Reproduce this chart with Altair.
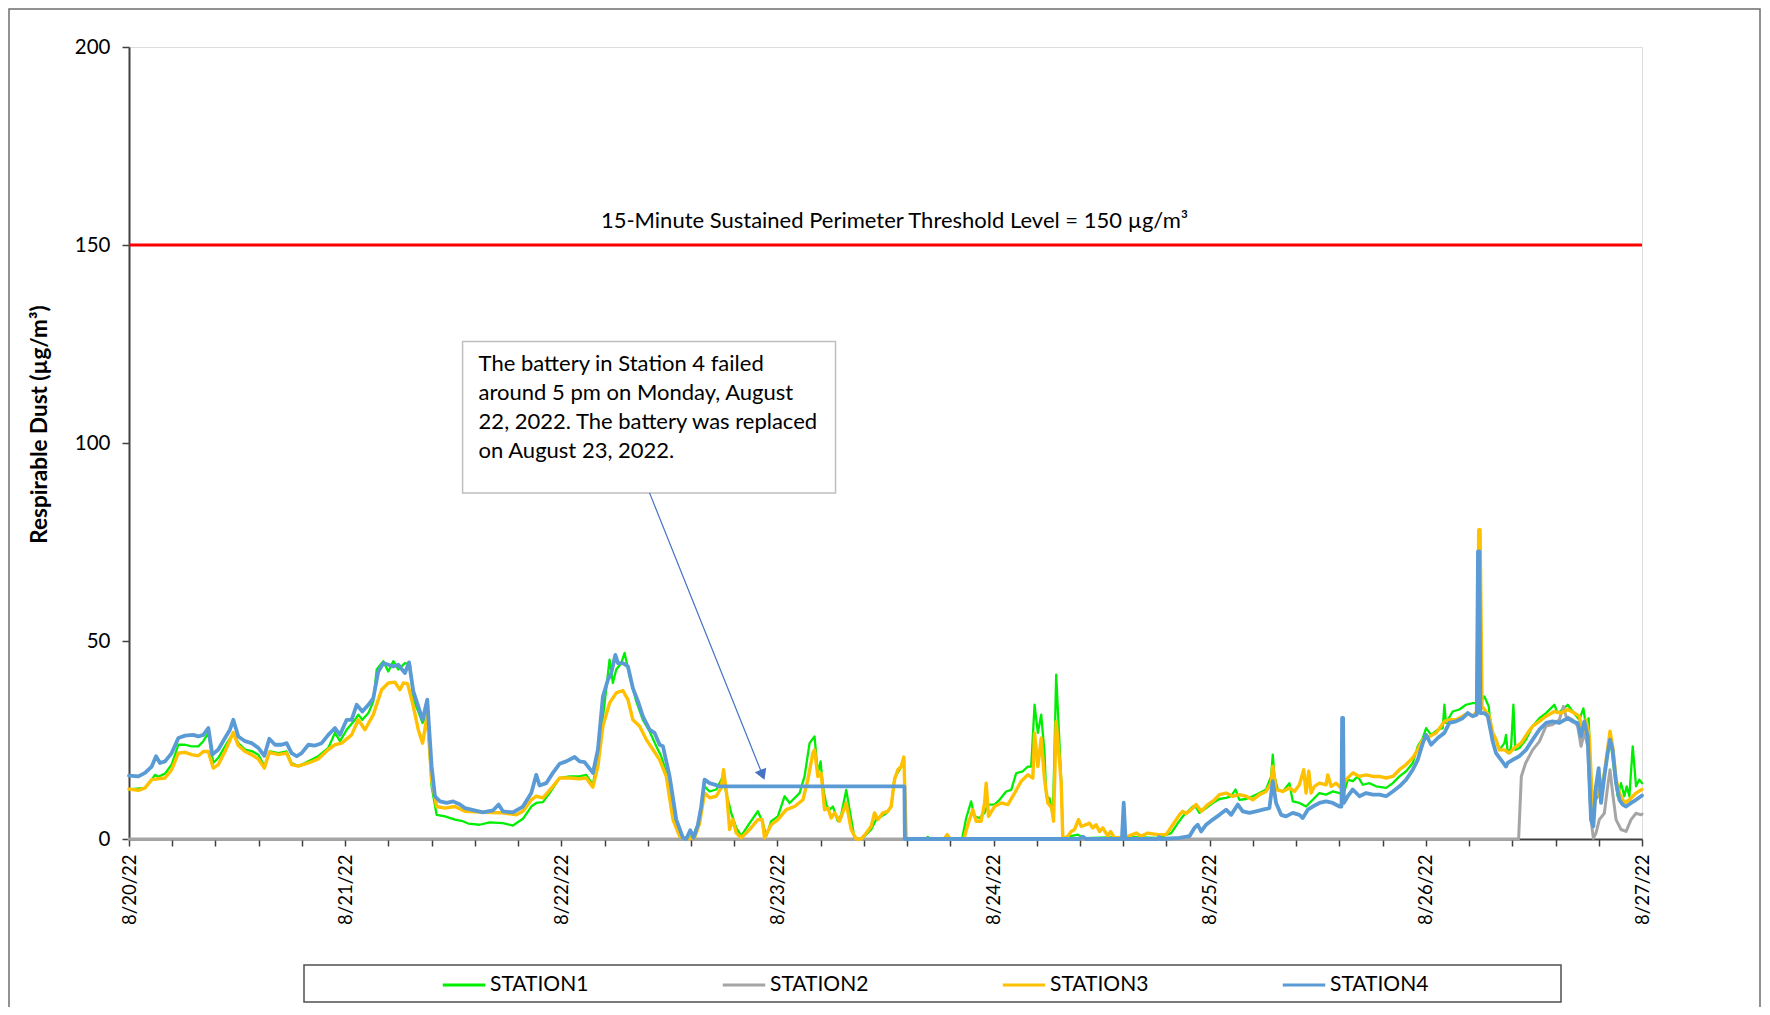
import altair as alt
import pandas as pd

START = pd.Timestamp("2022-08-20 00:00:00")

STATIONS = ["STATION1", "STATION2", "STATION3", "STATION4"]
COLORS = ["#00ee00", "#a5a5a5", "#ffc000", "#5b9bd5"]
WIDTHS = [2.3, 3.0, 3.4, 3.8]

# (hours since 8/20/22 00:00, µg/m3)
s1 = [(0, 12.5), (1.78, 12.9), (2.52, 15.0), (2.89, 16.2), (3.26, 15.7), (4.0, 16.5), (4.74, 18.8), (5.48, 23.8),
      (6.22, 23.8), (6.96, 23.4), (7.7, 23.4), (8.25, 24.7), (8.81, 26.8), (9.36, 19.2), (9.92, 20.5), (10.66, 23.4),
      (11.58, 26.8), (12.14, 24.2), (12.88, 22.6), (13.62, 22.2), (14.36, 21.3), (15.03, 18.4), (15.65, 22.1),
      (16.58, 21.7), (17.5, 22.1), (18.06, 19.2), (18.8, 18.4), (19.91, 19.6), (21.02, 20.9), (22.13, 23.0),
      (22.87, 26.8), (23.43, 24.7), (24.17, 27.6), (25.09, 30.1), (25.46, 31.4), (25.91, 30.1), (26.58, 31.8),
      (27.13, 34.8), (27.5, 42.8), (28.24, 44.9), (28.79, 42.3), (29.35, 44.9), (29.9, 42.8), (30.64, 44.4),
      (31.2, 44.0), (31.57, 35.2), (32.12, 32.2), (32.6, 29.3), (33.12, 31.8), (33.6, 13.3), (34.16, 6.1),
      (35.09, 5.7), (36.19, 4.9), (36.93, 4.6), (37.67, 3.9),
      (38.93, 3.6), (40.04, 4.2), (41.52, 4.0), (42.63, 3.4), (43.74, 5.1), (44.67, 8.2), (45.22, 9.1), (45.96, 9.3),
      (46.7, 11.6), (47.81, 15.4), (48.92, 15.8), (50.03, 15.8), (50.77, 16.2), (51.51, 13.7), (52.25, 23.4),
      (52.81, 34.3), (53.36, 45.3), (53.73, 39.4), (54.1, 42.8), (54.66, 44.4), (55.03, 47.0), (55.58, 41.1),
      (56.32, 34.8), (57.06, 30.1), (57.8, 27.2), (58.55, 23.4), (59.1, 20.9), (59.66, 16.7), (60.4, 5.7),
      (61.14, 0.7), (61.88, 0.0), (62.62, 0.7), (63.36, 4.9), (63.91, 13.3), (64.47, 12.0), (65.21, 12.5),
      (65.95, 15.8), (66.32, 11.6), (66.87, 6.6), (67.43, 2.8), (67.98, 0.8), (68.91, 4.0), (69.83, 7.0),
      (70.39, 4.0), (70.76, 0.7), (71.31, 4.5), (72.05, 5.7), (72.8, 10.8), (73.35, 9.1), (74.46, 11.6),
      (75.01, 15.8), (75.57, 24.2), (76.12, 25.9),
      (76.49, 16.6), (76.79, 19.6), (77.05, 13.3), (77.42, 8.7), (77.79, 7.4), (78.16, 8.2), (78.71, 4.5),
      (79.08, 6.1), (79.64, 12.4), (80.01, 7.4), (80.56, 0.2), (81.12, 0.0), (81.67, 0.7), (82.41, 2.4),
      (82.97, 4.9), (83.52, 5.7), (84.08, 6.5), (84.63, 8.2), (85.0, 15.4), (85.56, 17.5), (86.04, 20.0),
      (86.3, 0.0), (88.4, 0.0), (88.7, 0.5), (89.0, 0.0), (92.5, 0.0),
      (92.96, 5.3), (93.51, 9.5), (93.88, 5.7), (94.44, 5.3), (95.0, 6.6), (95.36, 8.7), (96.1, 8.7), (96.66, 9.9),
      (97.4, 12.0), (97.96, 12.4), (98.51, 16.6), (99.25, 17.1), (99.81, 18.3), (100.18, 18.3), (100.55, 33.9),
      (100.92, 26.8), (101.29, 31.4), (101.66, 21.7), (101.84, 10.8), (102.21, 10.3), (102.58, 5.7),
      (102.77, 22.6), (102.95, 41.5), (103.21, 29.3), (103.51, 15.0), (103.69, 0.3), (105.36, 1.1), (106.1, 0.2),
      (110.5, 0.5), (114.2, 0.3),
      (115.72, 1.5), (116.46, 4.0), (117.01, 5.7), (117.57, 7.0), (118.12, 8.2), (118.49, 8.0), (118.86, 6.6),
      (119.6, 7.8), (120.34, 9.1), (121.08, 10.1), (121.82, 10.4), (122.38, 10.8), (122.86, 12.5), (123.3, 9.9),
      (124.04, 10.1), (124.78, 10.8), (125.52, 11.6), (126.26, 12.5), (126.82, 15.8), (127.0, 21.3),
      (127.19, 15.8), (127.56, 12.5), (128.11, 12.0), (128.85, 14.1), (129.22, 9.5), (129.96, 9.1), (130.7, 8.2),
      (131.44, 9.9), (132.18, 11.6), (132.92, 11.2), (133.66, 12.0), (134.41, 11.6), (134.85, 11.2),
      (135.33, 15.0), (135.89, 14.6), (136.44, 15.8), (137.0, 13.7), (137.74, 14.1), (138.48, 13.3),
      (139.59, 12.9), (140.33, 14.1), (141.07, 15.8), (141.81, 17.1), (142.55, 19.2), (143.1, 23.4),
      (143.66, 25.5), (144.03, 28.0), (144.58, 26.3), (145.32, 27.6),
      (145.87, 28.0), (146.06, 33.9), (146.24, 29.3), (146.98, 32.2), (147.72, 32.7), (148.46, 33.9),
      (149.2, 34.3), (149.87, 34.3), (150.5, 36.0), (150.98, 33.5), (151.24, 27.6), (151.61, 25.9),
      (152.16, 22.5), (152.72, 24.2), (152.9, 26.3), (153.09, 21.7), (153.46, 23.0), (153.72, 33.9),
      (153.94, 22.5), (154.38, 23.0), (155.12, 25.1), (155.86, 28.5), (156.6, 30.5), (157.34, 31.8),
      (158.27, 33.9), (158.64, 31.8), (159.19, 32.7), (159.75, 33.9), (160.3, 32.2), (161.04, 30.1),
      (161.49, 33.0), (161.78, 28.5), (162.08, 30.5), (162.34, 13.3), (162.71, 9.1), (163.26, 11.6),
      (163.82, 16.6), (164.45, 25.9), (164.93, 16.6), (165.3, 10.8), (165.67, 14.1), (166.04, 10.8),
      (166.3, 13.3), (166.6, 10.8), (166.97, 23.4), (167.34, 13.3), (167.71, 15.0), (168.0, 14.1)]

s2 = [(0, 0.0), (154.3, 0.0), (154.6, 15.8), (155.08, 19.2), (155.86, 22.5), (156.6, 24.6), (157.34, 28.5),
      (158.08, 28.9), (158.82, 30.1), (159.27, 33.5), (159.56, 31.0), (160.3, 30.1), (160.86, 28.5),
      (161.23, 23.4), (161.6, 27.0), (161.97, 23.4), (162.34, 4.9), (162.6, 0.2), (162.89, 1.5), (163.26, 4.9),
      (163.82, 6.5), (164.19, 13.3), (164.45, 17.5), (164.74, 11.6), (165.12, 4.9), (165.67, 2.4),
      (166.23, 1.9), (166.78, 4.9), (167.34, 6.5), (167.89, 6.1), (168.0, 6.3)]

s3 = [(0, 12.6), (1.04, 12.3), (1.78, 12.9), (2.52, 15.0), (3.26, 15.2), (4.0, 15.4), (4.74, 17.5), (5.48, 21.7),
      (6.22, 21.9), (6.96, 21.3), (7.7, 21.0), (8.25, 22.1), (8.81, 22.1), (9.36, 17.9), (9.92, 18.8),
      (10.66, 22.1), (11.58, 26.9), (12.14, 23.6), (12.88, 22.1), (13.62, 21.3), (14.36, 20.2), (15.03, 17.9),
      (15.58, 21.9), (16.58, 21.3), (17.5, 21.7), (18.06, 18.8), (18.8, 18.4), (19.91, 19.2), (21.02, 20.2),
      (22.13, 22.6), (22.87, 23.8), (23.61, 24.2), (24.72, 26.3), (25.46, 30.1), (26.2, 27.6), (27.13, 31.4),
      (28.05, 37.7), (28.79, 39.4), (29.53, 39.6), (30.09, 37.7), (30.46, 39.4), (30.94, 39.2), (31.57, 33.5),
      (32.12, 27.6), (32.6, 24.2), (33.12, 31.4), (33.6, 15.0), (34.16, 8.2), (35.08, 7.8), (36.19, 8.2),
      (37.3, 7.0),
      (40.04, 6.7), (41.52, 6.6), (43.0, 6.1), (43.74, 7.0), (44.67, 9.9), (45.22, 10.8), (45.96, 10.4),
      (47.07, 13.3), (47.81, 15.4), (48.92, 15.4), (50.03, 15.2), (50.77, 15.4), (51.51, 13.1), (52.07, 18.4),
      (52.62, 28.5), (53.36, 34.3), (54.1, 36.9), (54.84, 37.5), (55.4, 35.2), (55.95, 30.1), (56.7, 28.5),
      (57.44, 25.1), (58.18, 22.6), (58.92, 20.0), (59.66, 15.8), (60.4, 4.9), (61.14, 0.7), (61.88, 0.0),
      (62.8, 0.3), (63.36, 4.0), (63.91, 11.6), (64.47, 10.4), (65.21, 10.8), (65.76, 12.9), (66.02, 17.5),
      (66.39, 10.8), (66.69, 2.4), (67.06, 4.9), (67.43, 1.5), (67.98, 0.3), (68.91, 2.4), (69.83, 4.9),
      (70.31, 4.9), (70.57, 0.3), (71.31, 3.6), (72.05, 4.9), (72.98, 7.4), (73.9, 8.2), (74.83, 9.9),
      (75.38, 15.0), (75.94, 21.7), (76.12, 22.5),
      (76.49, 15.8), (76.86, 16.6), (77.23, 7.4), (77.6, 7.8), (77.97, 5.3), (78.34, 6.6), (78.9, 4.5),
      (79.64, 9.1), (80.19, 2.4), (80.75, 0.0), (81.3, 0.0), (81.86, 1.5), (82.41, 3.2), (82.78, 6.6),
      (83.15, 4.9), (83.71, 6.6), (84.26, 7.0), (84.63, 8.2), (85.0, 15.0), (85.37, 17.5), (85.74, 18.3),
      (86.04, 20.7), (86.3, 0.0), (90.5, 0.0), (90.85, 1.1), (91.2, 0.0), (92.7, 0.0),
      (93.14, 3.6), (93.7, 7.4), (94.07, 4.5), (94.62, 4.5), (95.0, 9.1), (95.18, 14.1), (95.44, 5.7),
      (96.1, 8.2), (96.85, 9.1), (97.59, 8.7), (98.33, 11.6), (99.07, 14.6), (99.81, 16.2), (100.36, 15.4),
      (100.55, 26.8), (100.92, 18.3), (101.29, 25.5), (101.66, 15.0), (102.03, 9.1), (102.47, 7.8),
      (102.66, 4.5), (102.95, 29.7), (103.25, 21.7), (103.51, 14.1), (103.69, 0.0), (104.25, 0.7),
      (104.62, 1.9), (104.99, 2.4), (105.43, 4.9), (105.73, 3.2), (106.28, 3.6), (106.65, 4.0), (107.02, 2.8),
      (107.39, 3.6), (107.76, 1.9), (108.13, 2.8), (108.69, 0.7), (108.98, 1.9), (109.43, 0.3), (110.54, 0.3),
      (111.83, 1.5), (112.39, 0.7), (113.13, 1.5), (114.24, 1.1),
      (115.16, 1.1), (115.9, 3.6), (116.64, 6.1), (117.01, 7.0), (117.38, 6.4), (117.94, 7.4), (118.49, 8.7),
      (119.05, 7.0), (119.79, 8.7), (120.53, 9.9), (121.08, 11.2), (121.82, 11.6), (122.56, 10.8),
      (123.3, 11.2), (124.04, 10.8), (124.78, 9.9), (125.52, 11.2), (126.26, 12.0), (126.82, 14.1),
      (127.0, 18.4), (127.37, 12.5), (128.11, 12.0), (128.85, 12.9), (129.41, 12.0), (129.96, 13.7),
      (130.44, 17.5), (130.7, 11.6), (131.0, 17.1), (131.26, 11.6), (131.63, 13.3), (132.18, 14.1),
      (132.92, 13.7), (133.11, 16.2), (133.48, 13.3), (134.03, 14.1), (134.59, 12.9), (135.14, 15.0),
      (135.89, 16.7), (136.63, 15.8), (137.37, 16.2), (138.11, 15.8), (138.85, 15.8), (139.59, 15.4),
      (140.33, 15.8), (141.07, 17.5), (141.81, 18.8), (142.55, 20.5), (143.1, 22.6), (143.66, 25.1),
      (144.4, 25.9), (145.14, 26.8),
      (146.06, 29.7), (146.61, 30.1), (147.35, 30.1), (148.09, 31.0), (148.65, 31.8), (149.2, 31.0),
      (149.68, 32.2), (149.87, 78.1), (150.02, 78.1), (150.24, 33.5), (150.68, 32.2), (151.05, 31.0),
      (151.42, 26.8), (151.79, 25.1), (152.16, 22.5), (152.72, 22.5), (153.27, 21.7), (153.83, 23.0),
      (154.57, 24.2), (155.31, 26.8), (155.86, 28.5), (156.6, 29.7), (157.34, 31.0), (158.27, 32.2),
      (159.01, 31.8), (159.75, 32.7), (160.49, 31.8), (161.04, 31.0), (161.41, 26.8), (161.78, 30.1),
      (162.15, 25.9), (162.52, 7.4), (162.89, 13.3), (163.26, 10.8), (163.82, 16.6), (164.45, 27.2),
      (164.74, 23.4), (165.12, 15.0), (165.49, 11.6), (166.04, 9.1), (166.6, 9.9), (167.34, 11.6),
      (167.89, 12.4), (168.0, 12.5)]

s4 = [(0, 16.0), (1.04, 15.8), (1.78, 16.7), (2.52, 18.3), (3.0, 20.9), (3.44, 19.2), (4.0, 19.6), (4.74, 21.7),
      (5.48, 25.5), (6.22, 26.1), (7.14, 26.3), (7.7, 25.9), (8.25, 26.3), (8.81, 28.0), (9.25, 21.3),
      (9.92, 22.6), (10.66, 25.5), (11.21, 27.6), (11.58, 30.1), (12.14, 25.9), (12.88, 24.7), (13.62, 24.2),
      (14.36, 23.0), (15.03, 21.0), (15.58, 25.3), (16.21, 23.8), (16.95, 23.8), (17.5, 24.2), (18.06, 21.7),
      (18.62, 20.9), (19.17, 21.7), (19.91, 23.8), (20.65, 23.6), (21.39, 24.2), (22.13, 26.3), (22.87, 28.0),
      (23.43, 26.3), (24.17, 30.1), (24.72, 30.1), (25.28, 33.9), (25.91, 32.2), (26.58, 33.9), (27.13, 35.6),
      (27.68, 42.3), (28.24, 44.4), (28.79, 44.0), (29.35, 43.6), (29.9, 44.0), (30.64, 41.9), (31.09, 44.6),
      (31.57, 37.3), (32.12, 33.5), (32.6, 30.1), (33.12, 35.2), (33.6, 18.4), (33.97, 10.8), (34.53, 9.5),
      (35.27, 9.1), (36.0, 9.5), (36.75, 8.7), (37.3, 7.8),
      (39.3, 6.7), (40.41, 7.2), (41.04, 8.7), (41.52, 7.0), (42.63, 6.7), (43.74, 8.2), (44.67, 11.6),
      (45.22, 16.2), (45.59, 13.5), (46.33, 14.1), (47.07, 16.7), (47.81, 19.0), (48.55, 19.6), (49.48, 20.7),
      (50.03, 19.6), (50.59, 19.4), (51.51, 16.7), (52.07, 22.6), (52.62, 36.0), (53.18, 40.2), (53.55, 41.9),
      (54.0, 46.5), (54.29, 44.4), (54.84, 44.4), (55.4, 43.6), (55.95, 38.1), (56.51, 34.8), (57.06, 31.0),
      (57.8, 27.6), (58.36, 26.8), (58.92, 23.8), (59.29, 23.4), (60.03, 15.8), (60.77, 4.9), (61.51, 0.3),
      (61.88, 0.0), (62.32, 2.2), (62.69, 0.3), (63.17, 3.6), (63.54, 8.2), (63.91, 15.0), (64.47, 14.1),
      (65.21, 13.6), (65.39, 13.3), (86.1, 13.3), (86.15, 0.0),
      (105.5, 0.0), (105.9, 0.6), (106.3, 0.0), (110.25, 0.0), (110.45, 9.2), (110.65, 0.0), (114.2, 0.0),
      (114.4, 0.5), (114.6, 0.0),
      (116.64, 0.3), (117.75, 0.7), (118.3, 2.8), (118.68, 3.6), (119.05, 1.9), (119.6, 3.6), (120.34, 4.9),
      (121.08, 6.1), (121.82, 7.4), (122.38, 6.1), (123.12, 8.7), (123.67, 7.0), (124.41, 6.6), (125.15, 7.0),
      (125.89, 7.4), (126.63, 7.8), (127.0, 14.6), (127.37, 9.1), (127.93, 6.1), (128.48, 5.7), (129.22, 6.6),
      (129.96, 6.1), (130.33, 5.3), (130.89, 7.4), (131.44, 8.2), (132.18, 9.1), (132.92, 9.5), (133.66, 9.1),
      (134.41, 8.2), (134.63, 8.2), (134.7, 30.6), (134.81, 30.6), (134.89, 9.1), (135.33, 10.8),
      (135.89, 12.5), (136.63, 10.8), (137.37, 11.6), (138.11, 11.2), (138.85, 11.2), (139.59, 10.8),
      (140.33, 12.0), (141.07, 13.3), (141.81, 15.0), (142.55, 17.5), (143.1, 20.0), (143.66, 24.2),
      (144.03, 26.3), (144.58, 23.8), (145.32, 25.5),
      (146.06, 26.8), (146.61, 29.3), (147.35, 29.7), (148.09, 30.5), (148.65, 31.8), (149.2, 31.0),
      (149.65, 31.4), (149.79, 72.6), (149.94, 72.6), (150.05, 31.8), (150.5, 31.8), (150.87, 31.0),
      (151.24, 26.8), (151.42, 24.6), (151.79, 21.7), (152.35, 20.0), (152.9, 18.3), (153.09, 19.2),
      (153.64, 20.0), (154.38, 20.9), (155.12, 22.5), (155.86, 25.1), (156.6, 27.6), (157.34, 29.3),
      (158.08, 29.7), (158.82, 29.3), (159.75, 30.5), (160.3, 29.7), (160.86, 29.3), (161.23, 25.9),
      (161.6, 29.7), (161.97, 25.9), (162.34, 4.9), (162.6, 3.2), (162.89, 13.3), (163.19, 17.9),
      (163.45, 9.1), (163.82, 15.8), (164.19, 21.7), (164.45, 25.1), (164.74, 22.5), (165.12, 14.1),
      (165.49, 9.9), (165.86, 8.7), (166.23, 8.2), (166.78, 9.1), (167.34, 9.9), (167.89, 10.8), (168.0, 11.0)]

THRESHOLD = 150
THRESHOLD_TEXT = "15-Minute Sustained Perimeter Threshold Level = 150 µg/m³"
NOTE_TEXT = ["The battery in Station 4 failed", "around 5 pm on Monday, August",
             "22, 2022. The battery was replaced", "on August 23, 2022."]
Y_TICKS = [0, 50, 100, 150, 200]


def ts(h):
    return (START + pd.Timedelta(hours=h)).strftime("%Y-%m-%dT%H:%M:%S")


rows = []
for name, series in zip(STATIONS, [s1, s2, s3, s4]):
    for h, v in series:
        rows.append({"time": ts(h), "value": v, "station": name})
df = pd.DataFrame(rows)

# axis ticks every 0.2 day, labels at midnight
tick_vals = []
for k in range(36):
    m = k * 288
    tick_vals.append(alt.DateTime(year=2022, month=8, date=20 + m // 1440,
                                  hours=(m % 1440) // 60, minutes=m % 60))

FONT = "Lato"
x_scale = alt.Scale(domain=[alt.DateTime(year=2022, month=8, date=20, hours=0),
                            alt.DateTime(year=2022, month=8, date=27, hours=0)])
y_scale = alt.Scale(domain=[0, 200], nice=False)

x_axis = alt.Axis(values=tick_vals,
                  labelExpr="(hours(datum.value) == 0 && minutes(datum.value) == 0) ? timeFormat(datum.value, '%-m/%-d/%y') : ''",
                  labelAngle=270, labelFont=FONT, labelFontSize=18.5, labelColor="#000000",
                  labelPadding=8, tickSize=7, tickColor="#404040", tickWidth=1.5,
                  domainColor="#404040", domainWidth=2, grid=False, title=None,
                  labelOverlap=False, labelFlush=False, labelBound=False)
y_axis = alt.Axis(values=Y_TICKS, labelFont=FONT, labelFontSize=20.5, labelColor="#000000",
                  labelPadding=12, tickSize=7, tickColor="#404040", tickWidth=1.5,
                  domainColor="#404040", domainWidth=2, grid=False,
                  title="Respirable Dust (µg/m³)", titleFont=FONT, titleFontSize=22.5,
                  titleFontWeight="bold", titleColor="#000000", titleAngle=270,
                  titleX=-90, titleY=377, titleAlign="center", titleBaseline="middle")

legend = alt.Legend(orient="none", legendX=312, legendY=915, direction="horizontal",
                    columns=4, title=None, symbolType="stroke", symbolSize=1800,
                    symbolStrokeWidth=3, labelFont=FONT, labelFontSize=21,
                    labelColor="#000000", labelOffset=3, columnPadding=127,
                    padding=0, labelLimit=300)
color = alt.Color("station:N", scale=alt.Scale(domain=STATIONS, range=COLORS), legend=legend)

one = pd.DataFrame({"a": [0]})

frame = alt.Chart(one).mark_rect(fillOpacity=0, stroke="#6e6e6e", strokeWidth=1.5).encode(
    x=alt.value(-120), x2=alt.value(1631), y=alt.value(-38), y2=alt.value(966))

legend_box = alt.Chart(one).mark_rect(fillOpacity=0, stroke="#505050", strokeWidth=1.5).encode(
    x=alt.value(175), x2=alt.value(1432), y=alt.value(918), y2=alt.value(955))

thr_df = pd.DataFrame({"value": [THRESHOLD]})
thr_rule = alt.Chart(thr_df).mark_rule(color="#ff0000", strokeWidth=3).encode(
    y=alt.Y("value:Q", scale=y_scale, axis=y_axis))

thr_text_df = pd.DataFrame({"time": [ts(85.0)], "value": [156.0], "label": [THRESHOLD_TEXT]})
thr_text = alt.Chart(thr_text_df).mark_text(font=FONT, fontSize=22, color="#000000",
                                            align="center", baseline="middle").encode(
    x="time:T", y="value:Q", text="label:N")

box_df = pd.DataFrame({"t1": [ts(37.04)], "t2": [ts(78.45)], "v1": [125.6], "v2": [87.4]})
note_box = alt.Chart(box_df).mark_rect(fill="#ffffff", stroke="#bfbfbf", strokeWidth=1.5).encode(
    x="t1:T", x2="t2:T", y="v1:Q", y2="v2:Q")

note_df = pd.DataFrame({"time": [ts(38.82)], "value": [122.6], "label": ["\n".join(NOTE_TEXT)]})
note_text = alt.Chart(note_df).mark_text(font=FONT, fontSize=22, color="#000000", align="left",
                                         baseline="top", lineBreak="\n", lineHeight=29).encode(
    x="time:T", y="value:Q", text="label:N")

arrow_df = pd.DataFrame({"t1": [ts(57.8)], "t2": [ts(70.27)], "v1": [87.4], "v2": [16.6]})
arrow_line = alt.Chart(arrow_df).mark_rule(color="#4472c4", strokeWidth=1.2).encode(
    x="t1:T", x2="t2:T", y="v1:Q", y2="v2:Q")
head_df = pd.DataFrame({"time": [ts(70.27)], "value": [16.6]})
arrow_head = alt.Chart(head_df).mark_point(shape="triangle", size=150, angle=158, filled=True,
                                           color="#4472c4", opacity=1).encode(
    x="time:T", y="value:Q")

line_layers = []
for name, w in zip(STATIONS, WIDTHS):
    line_layers.append(
        alt.Chart(df[df["station"] == name]).mark_line(strokeWidth=w, strokeJoin="round", strokeCap="round").encode(
            x=alt.X("time:T", scale=x_scale, axis=x_axis),
            y=alt.Y("value:Q", scale=y_scale, axis=y_axis),
            color=color,
        )
    )

chart = alt.layer(frame, legend_box, thr_rule, thr_text, note_box, *line_layers, note_text,
                  arrow_line, arrow_head).properties(
    width=1513, height=792,
    autosize=alt.AutoSizeParams(type="none"),
    padding={"left": 121, "top": 39, "right": 120, "bottom": 168},
).configure_view(stroke="#8c8c8c", strokeWidth=1.5).configure(background="#ffffff", font=FONT)

chart.save("out.html", embed_options={"renderer": "svg", "actions": False})
